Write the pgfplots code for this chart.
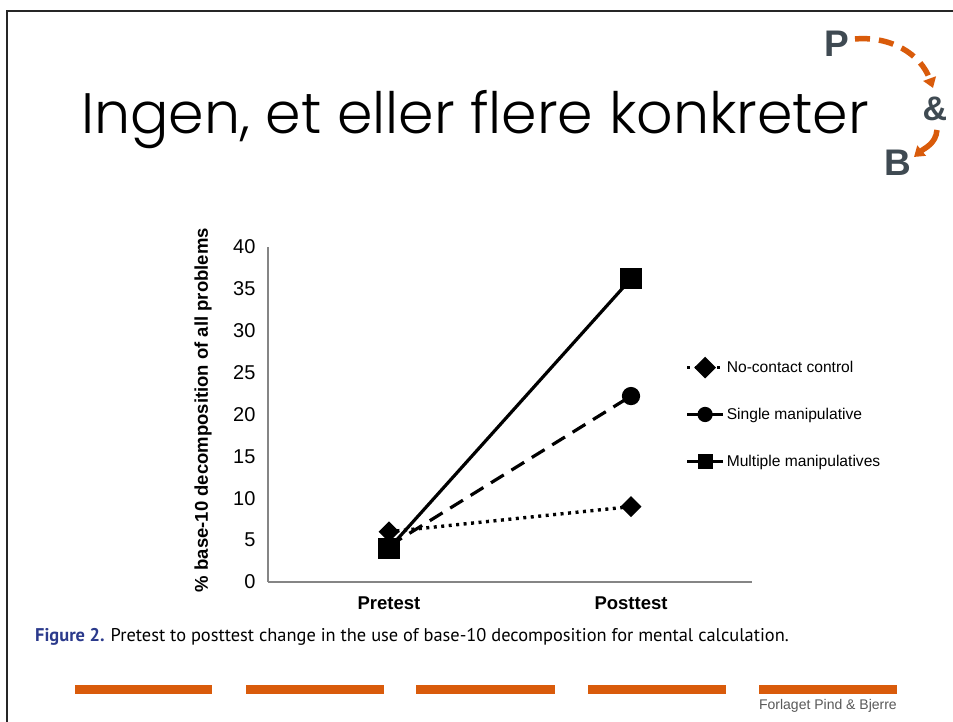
\documentclass[border=0pt]{standalone}
\usepackage{pgfplots}
\pgfplotsset{compat=1.18}
\usepackage{fontspec}
\setmainfont{Liberation Sans}
\newfontfamily\titlefont{Poppins Light}
\newfontfamily\capfont{PT Sans}
\usetikzlibrary{arrows.meta}
\definecolor{pborange}{HTML}{D95B0B}
\definecolor{pbgray}{HTML}{3F4A52}
\definecolor{capblue}{HTML}{2B3A8C}
\definecolor{axgray}{HTML}{858585}
\begin{document}
\begin{tikzpicture}[x=1pt,y=1pt]
\path[use as bounding box, fill=white] (0,0) rectangle (953,722);
% frame
\draw[line width=2.2pt, black!85] (7,-2) -- (7,711) -- (955,711);
% title
\node[anchor=base, inner sep=0pt, font=\titlefont\fontsize{57}{66}\selectfont] at (475,588) {Ingen, et eller flere konkreter};
% logo
\node[font=\fontsize{37}{39}\selectfont\bfseries, text=pbgray] at (837,678) {P};
\node[font=\fontsize{34}{36}\selectfont\bfseries, text=pbgray] at (935,613) {\&};
\node[font=\fontsize{37}{39}\selectfont\bfseries, text=pbgray] at (898,559) {B};
\draw[pborange, line width=5.5pt, dash pattern=on 15pt off 9pt, -{Triangle[length=10pt,width=13pt]}] (855,683) to[out=5,in=110] (933,634);
\draw[pborange, line width=5.5pt, -{Triangle[length=10pt,width=13pt]}] (937,592) to[out=-95,in=40] (914,565);
% caption
\node[anchor=base west, inner sep=0pt, font=\capfont\fontsize{18.4}{21}\selectfont] at (35,80) {\textcolor{capblue}{\bfseries Figure 2.}\hspace{6pt}Pretest to posttest change in the use of base-10 decomposition for mental calculation.};
% footer
\foreach \a/\b in {75/212,246/384,416/555,588/726,759/897}{
  \fill[pborange] (\a,28) rectangle (\b,37);
}
\node[anchor=base east, inner sep=0pt, text=black!65, font=\fontsize{14}{16}\selectfont] at (897,12) {Forlaget Pind \& Bjerre};
\begin{axis}[
  at={(268pt,140pt)}, anchor=south west,
  scale only axis, width=484pt, height=335pt,
  xmin=0, xmax=2, ymin=0, ymax=40,
  axis x line*=bottom, axis y line*=left,
  axis line style={axgray, line width=1.4pt},
  xtick={0.5,1.5}, xticklabels={Pretest,Posttest},
  ytick={0,5,...,40},
  major tick length=0pt,
  xticklabel style={font=\bfseries\fontsize{18.5}{20}\selectfont, yshift=-11pt},
  yticklabel style={font=\fontsize{20}{22}\selectfont, xshift=-9pt},
  /pgf/number format/assume math mode=true,
  ylabel={\% base-10 decomposition of all problems},
  ylabel style={font=\bfseries\fontsize{18.5}{20}\selectfont, at={(axis description cs:-0.134,0.513)}, anchor=center},
  clip=false,
  legend style={at={(axis description cs:0.862,0.666)}, anchor=north west, draw=none, fill=none,
    font=\fontsize{15.6}{18}\selectfont, row sep=30pt, inner sep=0pt},
  legend cell align=left,
  legend image code/.code={\draw[#1,mark=none] (0pt,0pt) -- (36pt,0pt); \draw[#1,solid,mark size=6pt] plot coordinates {(18pt,0pt)};},
]
\addplot[black, line width=3.4pt, dash pattern=on 3pt off 4.5pt, mark=square*, mark size=5.7pt, mark options={solid, rotate=45}] coordinates {(0.5,6) (1.5,9)};
\addlegendentry{No-contact control}
\addplot[black, line width=3.2pt, dash pattern=on 15pt off 9pt, mark=*, mark size=7.5pt, mark options={solid}] coordinates {(0.5,4.3) (1.5,22.2)};
\addlegendentry{Single manipulative}
\addplot[black, line width=3.2pt, mark=square*, mark size=9pt] coordinates {(0.5,4) (1.5,36.2)};
\addlegendentry{Multiple manipulatives}
\end{axis}
\end{tikzpicture}
\end{document}
